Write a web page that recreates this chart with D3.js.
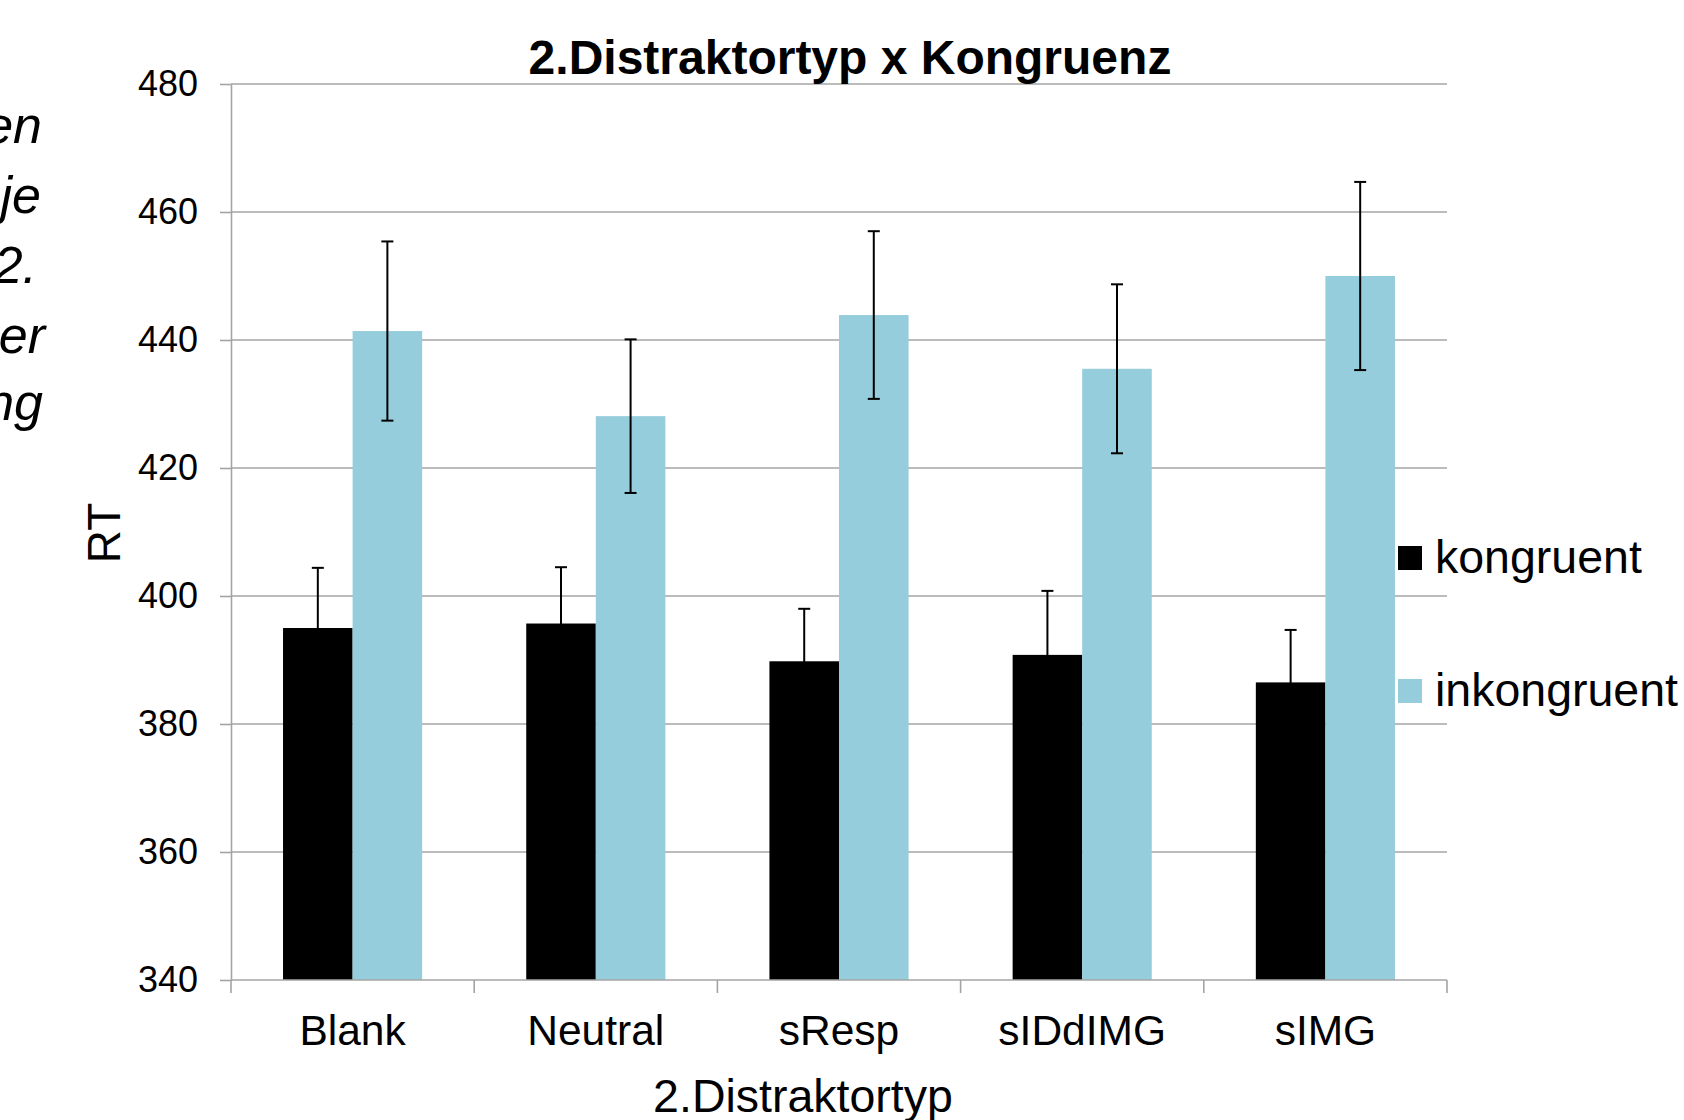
<!DOCTYPE html>
<html>
<head>
<meta charset="utf-8">
<script src="https://cdn.jsdelivr.net/npm/d3@7"></script>
<style>
  html, body { margin: 0; padding: 0; background: #fff; }
  svg { display: block; font-family: "Liberation Sans", Arial, Helvetica, sans-serif; }
</style>
</head>
<body>
<svg id="chart" width="1684" height="1120"></svg>
<script>
// ---- data ----
const categories = ["Blank", "Neutral", "sResp", "sIDdIMG", "sIMG"];
const seriesNames = ["kongruent", "inkongruent"];
const kongruent = [395.0, 395.7, 389.8, 390.8, 386.5];
const inkongruent = [441.4, 428.1, 443.9, 435.5, 450.0];
const errKongruent = [9.4, 8.8, 8.2, 10.0, 8.2];
const errInkongruent = [14.0, 12.0, 13.1, 13.2, 14.7];
const yTicks = [340, 360, 380, 400, 420, 440, 460, 480];
const sideTextLines = ["en", "je", "2.", "er", "ng"];
const chartTitle = "2.Distraktortyp x Kongruenz";
const xTitle = "2.Distraktortyp";
const yTitle = "RT";

(function () {
// ---- layout ----
const colors = { kongruent: "#000000", inkongruent: "#95cddc" };
const gridColor = "#a4a4a4";
const pLeft = 231, pRight = 1447, pTop = 84, pBottom = 980;

const svg = d3.select("#chart");

const x = d3.scaleBand().domain(categories).range([pLeft, pRight]).paddingInner(0).paddingOuter(0);
const xs = d3.scaleBand().domain(seriesNames).range([0, x.bandwidth()]).paddingInner(0).paddingOuter(0.748);
const y = d3.scaleLinear().domain([340, 480]).range([pBottom, pTop]);

// gridlines
svg.append("g").selectAll("line").data(yTicks.filter(d => d !== 340)).join("line")
  .attr("x1", pLeft).attr("x2", pRight)
  .attr("y1", d => y(d)).attr("y2", d => y(d))
  .attr("stroke", gridColor).attr("stroke-width", 1.6);

const rows = categories.map((c, i) => ({
  cat: c,
  vals: [
    { s: "kongruent", v: kongruent[i], e: errKongruent[i] },
    { s: "inkongruent", v: inkongruent[i], e: errInkongruent[i] }
  ]
}));

const groups = svg.append("g").selectAll("g").data(rows).join("g")
  .attr("transform", d => `translate(${x(d.cat)},0)`);

groups.selectAll("rect").data(d => d.vals).join("rect")
  .attr("x", d => xs(d.s))
  .attr("width", xs.bandwidth())
  .attr("y", d => y(d.v))
  .attr("height", d => y(340) - y(d.v))
  .attr("fill", d => colors[d.s]);

// error bars
const capW = 12;
const cx = d => xs(d.s) + xs.bandwidth() / 2;
const eb = groups.selectAll("g.err").data(d => d.vals).join("g").attr("class", "err");
eb.append("line")
  .attr("x1", cx).attr("x2", cx)
  .attr("y1", d => y(d.v + d.e)).attr("y2", d => y(d.v - d.e))
  .attr("stroke", "#000").attr("stroke-width", 2);
eb.append("line")
  .attr("x1", d => cx(d) - capW / 2).attr("x2", d => cx(d) + capW / 2)
  .attr("y1", d => y(d.v + d.e)).attr("y2", d => y(d.v + d.e))
  .attr("stroke", "#000").attr("stroke-width", 2);
eb.append("line")
  .attr("x1", d => cx(d) - capW / 2).attr("x2", d => cx(d) + capW / 2)
  .attr("y1", d => y(d.v - d.e)).attr("y2", d => y(d.v - d.e))
  .attr("stroke", "#000").attr("stroke-width", 2);

// y axis
const yAxis = svg.append("g").attr("transform", `translate(${pLeft},0)`)
  .call(d3.axisLeft(y).tickValues(yTicks).tickFormat(d3.format("d")).tickSize(11).tickPadding(22).tickSizeOuter(0));
yAxis.select(".domain").attr("stroke", gridColor).attr("stroke-width", 1.6);
yAxis.selectAll(".tick line").attr("stroke", gridColor).attr("stroke-width", 1.6);
yAxis.selectAll(".tick text").attr("font-size", 36).attr("fill", "#000")
  .attr("font-family", "'Liberation Sans', Arial, sans-serif");

// x axis: line + boundary ticks
const xAxisG = svg.append("g");
xAxisG.append("line").attr("x1", pLeft).attr("x2", pRight).attr("y1", pBottom).attr("y2", pBottom)
  .attr("stroke", gridColor).attr("stroke-width", 1.6);
const bounds = categories.map(c => x(c)).concat([x(categories[categories.length - 1]) + x.bandwidth()]);
xAxisG.selectAll("line.tk").data(bounds).join("line").attr("class", "tk")
  .attr("x1", d => d).attr("x2", d => d).attr("y1", pBottom).attr("y2", pBottom + 13)
  .attr("stroke", gridColor).attr("stroke-width", 1.6);
xAxisG.selectAll("text").data(categories).join("text")
  .attr("x", d => x(d) + x.bandwidth() / 2).attr("y", 1045)
  .attr("text-anchor", "middle").attr("font-size", 42.5).attr("fill", "#000").text(d => d);

// titles
svg.append("text").attr("x", 850).attr("y", 74).attr("text-anchor", "middle")
  .attr("font-size", 48).attr("font-weight", "bold").attr("fill", "#000").text(chartTitle);
svg.append("text").attr("x", 803).attr("y", 1112).attr("text-anchor", "middle")
  .attr("font-size", 46.5).attr("fill", "#000").text(xTitle);
svg.append("text").attr("transform", "translate(120,533) rotate(-90)").attr("text-anchor", "middle")
  .attr("font-size", 46).attr("fill", "#000").text(yTitle);

// legend
const legend = svg.append("g");
const legY = [546, 679];
seriesNames.forEach((s, i) => {
  legend.append("rect").attr("x", 1398).attr("y", legY[i]).attr("width", 24).attr("height", 24).attr("fill", colors[s]);
  legend.append("text").attr("x", 1435).attr("y", legY[i] + 27).attr("font-size", 46.5).attr("fill", "#000").text(s);
});

// cropped italic side text (fragments visible at left edge)
const sideX = [42, 41, 37, 45, 43];
const sideY = [143, 213, 283, 353, 420];
svg.append("g").selectAll("text").data(sideTextLines).join("text")
  .attr("x", (d, i) => sideX[i]).attr("y", (d, i) => sideY[i])
  .attr("text-anchor", "end").attr("font-style", "italic").attr("font-size", 52).attr("fill", "#000")
  .text(d => d);
})();
</script>
</body>
</html>
